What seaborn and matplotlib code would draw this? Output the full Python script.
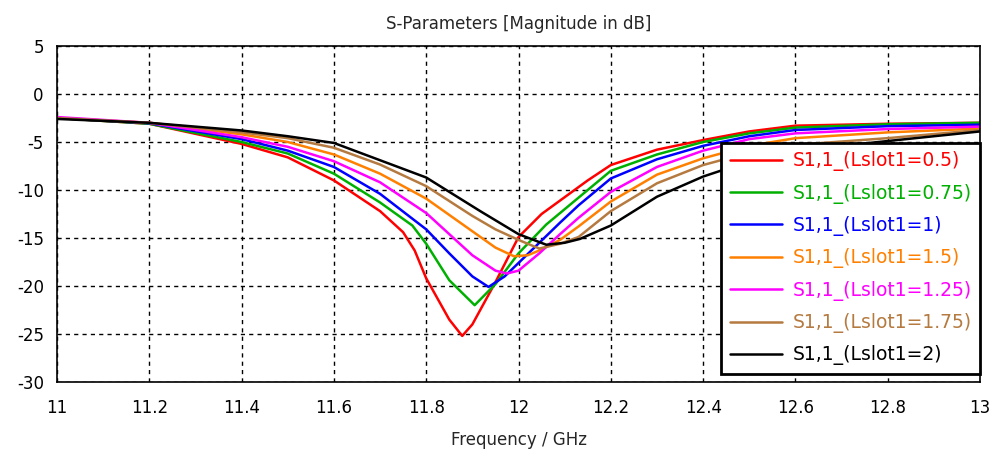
import numpy as np
import pandas as pd
import seaborn as sns
import matplotlib
import matplotlib.pyplot as plt
from matplotlib.ticker import FormatStrFormatter

matplotlib.use("Agg")

# S11 curves, one set per Lslot1 value
f_05 = [11.0, 11.2, 11.4, 11.5, 11.6, 11.7, 11.75, 11.775, 11.8, 11.85, 11.878, 11.9,
        11.95, 12.0, 12.05, 12.09, 12.15, 12.2, 12.3, 12.4, 12.5, 12.6, 12.8, 13.0]
s_05 = [-2.5, -3.1, -5.2, -6.6, -9.0, -12.2, -14.4, -16.3, -19.2, -23.5, -25.2, -24.0,
        -19.6, -14.9, -12.5, -11.1, -9.0, -7.4, -5.8, -4.8, -3.9, -3.3, -3.1, -3.0]

f_075 = [11.0, 11.2, 11.4, 11.5, 11.6, 11.7, 11.77, 11.8, 11.85, 11.905, 11.95, 12.0,
         12.06, 12.09, 12.2, 12.3, 12.4, 12.5, 12.6, 12.8, 13.0]
s_075 = [-2.5, -3.1, -5.0, -6.2, -8.3, -11.3, -13.7, -15.6, -19.4, -22.0, -19.8, -16.6,
         -13.6, -12.4, -8.0, -6.3, -5.0, -4.1, -3.5, -3.15, -3.0]

f_1 = [11.0, 11.2, 11.4, 11.5, 11.6, 11.7, 11.8, 11.85, 11.9, 11.935, 11.97, 12.0,
       12.06, 12.09, 12.13, 12.2, 12.3, 12.4, 12.5, 12.6, 12.8, 13.0]
s_1 = [-2.5, -3.05, -4.7, -5.9, -7.6, -10.4, -14.1, -16.6, -19.0, -20.1, -19.0, -17.6,
       -14.8, -13.4, -11.6, -8.8, -6.8, -5.4, -4.4, -3.75, -3.35, -3.2]

f_15 = [11.0, 11.2, 11.4, 11.5, 11.6, 11.7, 11.8, 11.9, 11.95, 11.99, 12.02, 12.045,
        12.09, 12.13, 12.2, 12.3, 12.4, 12.5, 12.6, 12.8, 13.0]
s_15 = [-2.5, -3.0, -4.2, -5.0, -6.3, -8.3, -10.9, -14.3, -16.0, -16.9, -16.8, -16.3,
        -15.2, -13.8, -11.2, -8.4, -6.7, -5.4, -4.6, -4.0, -3.6]

f_125 = [11.0, 11.2, 11.4, 11.5, 11.6, 11.7, 11.8, 11.85, 11.9, 11.95, 11.975, 12.0,
         12.045, 12.09, 12.13, 12.2, 12.3, 12.4, 12.5, 12.6, 12.8, 13.0]
s_125 = [-2.4, -3.0, -4.5, -5.5, -7.0, -9.2, -12.4, -14.6, -16.8, -18.4, -18.7, -18.4,
         -16.6, -14.6, -12.9, -10.2, -7.6, -5.9, -4.7, -4.1, -3.65, -3.4]

f_175 = [11.0, 11.2, 11.4, 11.5, 11.6, 11.7, 11.8, 11.9, 11.95, 12.0, 12.045, 12.09,
         12.13, 12.2, 12.3, 12.4, 12.5, 12.6, 12.8, 13.0]
s_175 = [-2.5, -3.0, -4.0, -4.6, -5.6, -7.35, -9.6, -12.7, -14.1, -15.2, -16.1, -15.6,
         -14.9, -12.2, -9.3, -7.4, -6.1, -5.3, -4.6, -3.75]

f_2 = [11.0, 11.2, 11.4, 11.5, 11.6, 11.7, 11.8, 11.917, 12.0, 12.06, 12.1, 12.133,
       12.2, 12.3, 12.4, 12.5, 12.6, 12.8, 12.9, 13.0]
s_2 = [-2.6, -3.0, -3.8, -4.4, -5.1, -6.9, -8.7, -12.2, -14.6, -15.7, -15.5, -15.1,
       -13.7, -10.7, -8.6, -7.0, -5.9, -4.9, -4.4, -3.9]

labels = ["S1,1_(Lslot1=0.5)", "S1,1_(Lslot1=0.75)", "S1,1_(Lslot1=1)",
          "S1,1_(Lslot1=1.5)", "S1,1_(Lslot1=1.25)", "S1,1_(Lslot1=1.75)",
          "S1,1_(Lslot1=2)"]
colors = ["#ff0000", "#00b000", "#0000ff", "#ff8000", "#ff00ff", "#b57a40", "#000000"]
freqs = [f_05, f_075, f_1, f_15, f_125, f_175, f_2]
vals = [s_05, s_075, s_1, s_15, s_125, s_175, s_2]

frames = []
for lab, f, s in zip(labels, freqs, vals):
    frames.append(pd.DataFrame({"freq": f, "s11": s, "curve": lab}))
df = pd.concat(frames, ignore_index=True)

sns.set_style("white")
plt.rcParams["font.family"] = ["DejaVu Sans"]
plt.rcParams["axes.unicode_minus"] = False

fig = plt.figure(figsize=(9.94, 4.54), dpi=100)
ax = fig.add_axes([0.0573, 0.1586, 0.9287, 0.7401])

sns.lineplot(data=df, x="freq", y="s11", hue="curve", hue_order=labels,
             palette=colors, linewidth=1.8, ax=ax, sort=False)

ax.set_xlim(11, 13)
ax.set_ylim(-30, 5)
ax.set_xticks(np.arange(11, 13.01, 0.2))
ax.set_yticks(np.arange(-30, 5.1, 5))
ax.xaxis.set_major_formatter(FormatStrFormatter("%g"))
ax.tick_params(direction="inout", length=7, width=1, colors="black", labelsize=12)
ax.tick_params(axis="x", pad=9)
ax.tick_params(axis="y", pad=6)
ax.grid(True, color="black", linestyle=(0, (3, 3)), linewidth=1)
ax.set_axisbelow(True)
for sp in ax.spines.values():
    sp.set_color("black")
    sp.set_linewidth(1.2)

ax.set_xlabel("Frequency / GHz", fontsize=12, labelpad=10)
ax.set_ylabel("")
ax.set_title("S-Parameters [Magnitude in dB]", fontsize=12, pad=12)

leg = ax.legend(loc="lower right", bbox_to_anchor=(1.0, 0.024), fontsize=13.5,
                frameon=True, fancybox=False, framealpha=1, edgecolor="black",
                handlelength=2.8, handletextpad=0.55, labelspacing=0.66,
                borderaxespad=0, borderpad=0.45)
leg.get_frame().set_linewidth(2)
for txt, c in zip(leg.get_texts(), colors):
    txt.set_color(c)

fig.savefig("out.png", dpi=100)
